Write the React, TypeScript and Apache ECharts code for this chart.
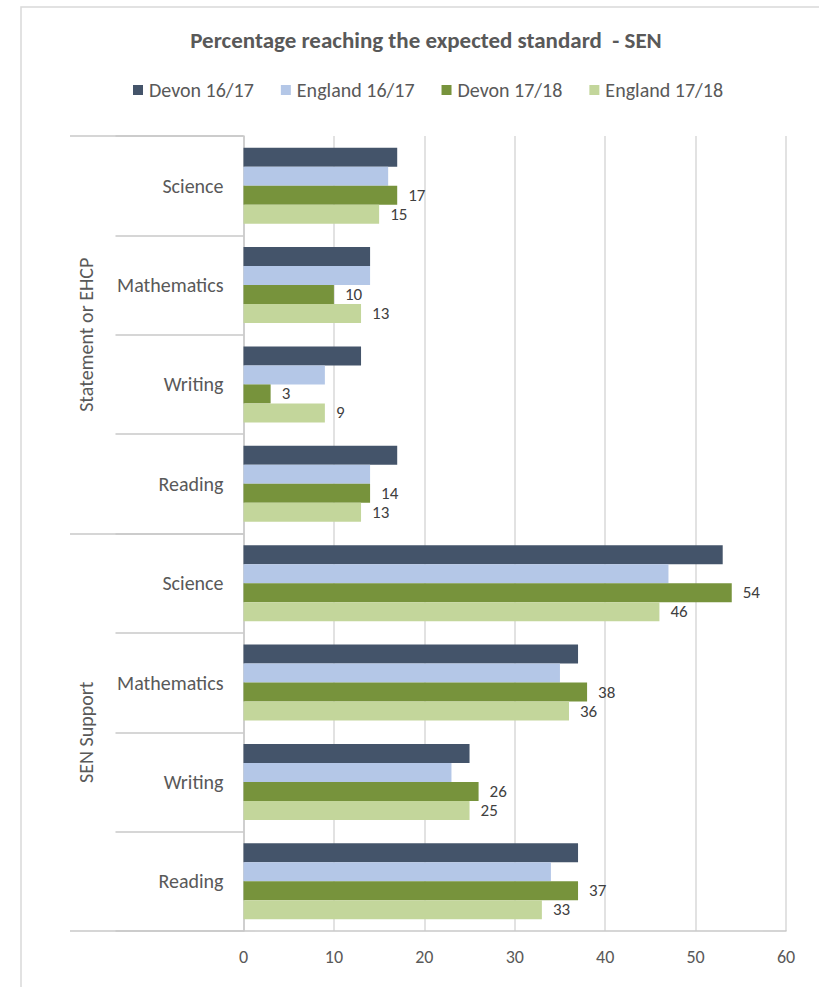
import React, { useEffect, useRef } from "react";
import * as echarts from "echarts";

const groups = ["Statement or EHCP", "SEN Support"];
const subjects = ["Science", "Mathematics", "Writing", "Reading"];
const seriesNames = ["Devon 16/17", "England 16/17", "Devon 17/18", "England 17/18"];

// values top-to-bottom: Statement (Science, Maths, Writing, Reading), SEN Support (Science, Maths, Writing, Reading)
const devon1617 = [17, 14, 13, 17, 53, 37, 25, 37];
const england1617 = [16, 14, 9, 14, 47, 35, 23, 34];
const devon1718 = [17, 10, 3, 14, 54, 38, 26, 37];
const england1718 = [15, 13, 9, 13, 46, 36, 25, 33];

const xTicks = { min: 0, max: 60, interval: 10 };
const colors = ["#44546a", "#b4c7e7", "#77933c", "#c3d69b"];

const FONT = "Carlito, Lato, 'Liberation Sans', sans-serif";
const TEXT = "#595959";
const LINE = "#c8c8c8";

export default function App() {
  const ref = useRef<HTMLDivElement>(null);
  useEffect(() => {
    if (!ref.current) return;
    const chart = echarts.init(ref.current, undefined, { renderer: "svg" });
    const cats: string[] = [];
    groups.forEach((g) => subjects.forEach((s) => cats.push(g + "|" + s)));
    const values = [devon1617, england1617, devon1718, england1718];
    chart.setOption({
      animation: false,
      backgroundColor: "#ffffff",
      textStyle: { fontFamily: FONT },
      title: {
        text: "Percentage reaching the expected standard  - SEN",
        left: 421,
        top: 23,
        textAlign: "center",
        textStyle: { fontFamily: FONT, fontSize: 23, fontWeight: "bold", color: TEXT },
      },
      legend: {
        left: 128,
        top: 75,
        itemWidth: 10,
        itemHeight: 10,
        itemGap: 27,
        icon: "rect",
        textStyle: { fontFamily: FONT, fontSize: 20, color: TEXT, padding: [0, 0, 0, 1] },
        data: seriesNames,
      },
      grid: { left: 243.5, right: 33, top: 136, bottom: 56, containLabel: false },
      xAxis: {
        type: "value",
        min: xTicks.min,
        max: xTicks.max,
        interval: xTicks.interval,
        axisLine: { show: true, lineStyle: { color: LINE, width: 1.5 } },
        axisTick: { show: false },
        splitLine: { show: true, lineStyle: { color: "#d9d9d9", width: 1.5 } },
        axisLabel: { fontFamily: FONT, fontSize: 18, color: TEXT, margin: 17 },
      },
      yAxis: [
        {
          type: "category",
          inverse: true,
          data: cats,
          axisLine: { show: true, lineStyle: { color: LINE, width: 1.5 } },
          axisTick: { show: true, length: 128, interval: 0, lineStyle: { color: LINE, width: 1.5 } },
          axisLabel: {
            interval: 0,
            margin: 20,
            fontFamily: FONT,
            fontSize: 20,
            color: TEXT,
            formatter: (v: string) => v.split("|")[1],
          },
        },
        {
          type: "category",
          inverse: true,
          position: "left",
          data: groups,
          axisLine: { show: false },
          axisTick: { show: true, length: 173.5, interval: 0, lineStyle: { color: LINE, width: 1.5 } },
          axisLabel: {
            interval: 0,
            rotate: 90,
            margin: 148,
            fontFamily: FONT,
            fontSize: 20,
            color: TEXT,
          },
        },
      ],
      series: seriesNames.map((name, i) => ({
        name,
        type: "bar",
        yAxisIndex: 0,
        data: values[i],
        barGap: "0%",
        barCategoryGap: "23.5%",
        itemStyle: { color: colors[i] },
        label: {
          show: i >= 2,
          position: "right",
          distance: 11,
          fontFamily: FONT,
          fontSize: 17,
          color: "#404040",
        },
      })),
      graphic: [
        {
          type: "rect",
          shape: { x: 21, y: 7, width: 830, height: 1000 },
          style: { fill: "none", stroke: "#d9d9d9", lineWidth: 1.5 },
          silent: true,
        },
      ],
    });
    return () => chart.dispose();
  }, []);
  return (
    <div
      ref={ref}
      style={{ position: "absolute", left: 0, top: 0, width: 819, height: 987 }}
    />
  );
}
